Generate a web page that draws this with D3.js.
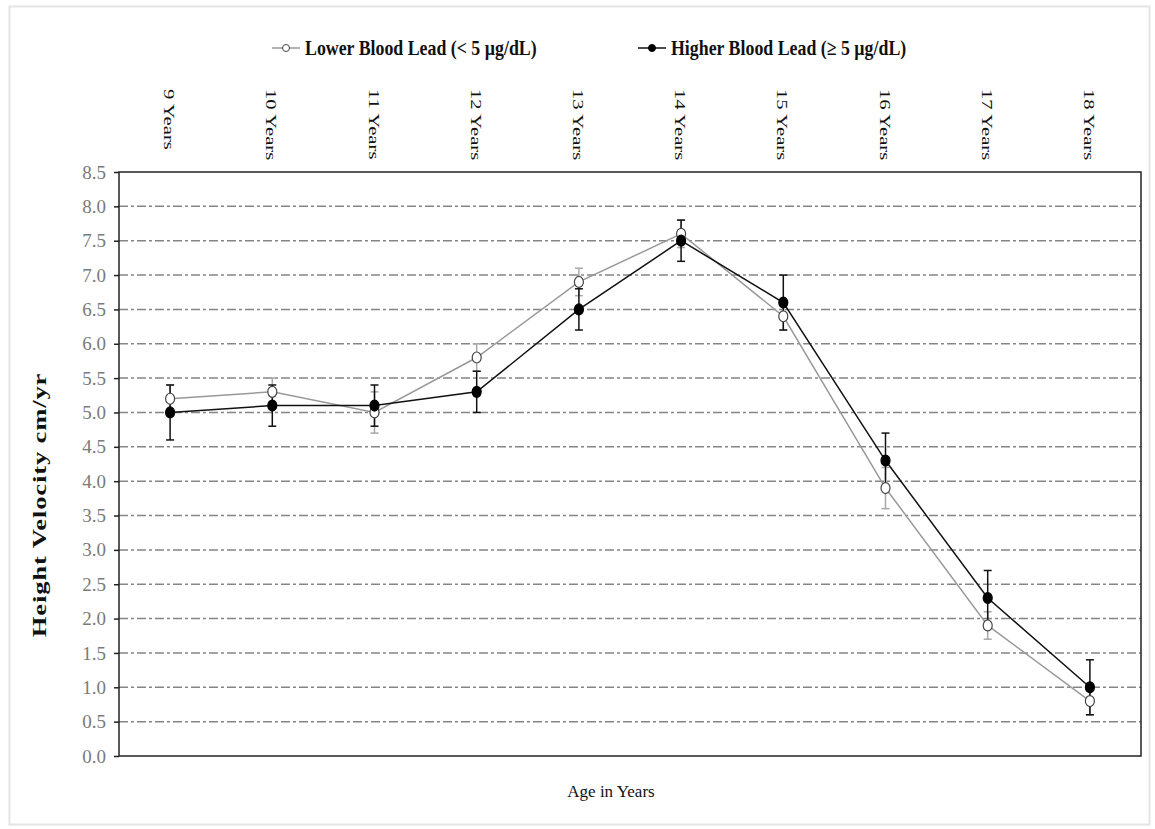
<!DOCTYPE html>
<html>
<head>
<meta charset="utf-8" />
<script src="https://d3js.org/d3.v7.min.js"></script>
<style>
  body { margin: 0; background: #fff; }
  text { font-family: "Liberation Serif", "Times New Roman", serif; }
</style>
</head>
<body>
<svg id="chart" width="1155" height="829"></svg>
<script>
// categories (ages)
var ages = ["9 Years", "10 Years", "11 Years", "12 Years", "13 Years", "14 Years", "15 Years", "16 Years", "17 Years", "18 Years"];

// lower blood lead (< 5 ug/dL) - mean and error
var lowerMean = [5.2, 5.3, 5.0, 5.8, 6.9, 7.6, 6.4, 3.9, 1.9, 0.8];
var lowerErr  = [0.2, 0.2, 0.3, 0.2, 0.2, 0.2, 0.2, 0.3, 0.2, 0.2];

// higher blood lead (>= 5 ug/dL)
var higherMean = [5.0, 5.1, 5.1, 5.3, 6.5, 7.5, 6.6, 4.3, 2.3, 1.0];
var higherErr  = [0.4, 0.3, 0.3, 0.3, 0.3, 0.3, 0.4, 0.4, 0.4, 0.4];

var yTicks = d3.range(0, 8.51, 0.5);

var svg = d3.select("#chart");

// outer light frame
svg.append("rect")
    .attr("x", 9.5).attr("y", 6.5)
    .attr("width", 1140).attr("height", 818)
    .attr("fill", "none").attr("stroke", "#e4e4e4").attr("stroke-width", 2);

var plotLeft = 119, plotRight = 1141, plotTop = 172, plotBottom = 756;

var x = d3.scaleBand().domain(ages).range([plotLeft, plotRight]);
var y = d3.scaleLinear().domain([0, 8.5]).range([plotBottom, plotTop]);

// grid lines (dash-dot)
svg.append("g")
    .selectAll("line")
    .data(yTicks.filter(function(d) { return d > 0 && d < 8.5; }))
    .enter()
    .append("line")
    .attr("x1", plotLeft).attr("x2", plotRight)
    .attr("y1", function(d) { return y(d); })
    .attr("y2", function(d) { return y(d); })
    .attr("stroke", "#858585")
    .attr("stroke-width", 1.5)
    .attr("stroke-dasharray", "9,3,3,3");

// plot box
svg.append("rect")
    .attr("x", plotLeft).attr("y", plotTop)
    .attr("width", plotRight - plotLeft).attr("height", plotBottom - plotTop)
    .attr("fill", "none").attr("stroke", "#222").attr("stroke-width", 1.5);

// y axis
var yAxis = svg.append("g")
    .attr("transform", "translate(" + plotLeft + ",0)")
    .call(d3.axisLeft(y).tickValues(yTicks).tickFormat(d3.format(".1f")).tickSize(5).tickPadding(8));
yAxis.select(".domain").remove();
yAxis.selectAll("line").attr("stroke", "#222").attr("stroke-width", 1.5);
yAxis.selectAll("text")
    .attr("fill", "#7a7a7a")
    .style("font-size", "19px")
    .style("font-family", "'Liberation Serif', serif");

// top category labels (rotated, stretched along the text)
svg.append("g")
    .selectAll("text")
    .data(ages)
    .enter()
    .append("text")
    .attr("transform", function(d) {
        return "translate(" + (x(d) + x.bandwidth() / 2 - 6) + ",89) rotate(90) scale(1.38,1)";
    })
    .attr("text-anchor", "start")
    .style("font-size", "15px")
    .attr("fill", "#111")
    .text(function(d) { return d; });

// axis titles
svg.append("text")
    .attr("transform", "translate(46,505) rotate(-90) scale(1.4,1)")
    .attr("text-anchor", "middle")
    .style("font-size", "19px")
    .style("font-weight", "bold")
    .style("letter-spacing", "0.6px")
    .attr("fill", "#111")
    .text("Height  Velocity cm/yr");

svg.append("text")
    .attr("x", 611).attr("y", 797)
    .attr("text-anchor", "middle")
    .style("font-size", "17px")
    .attr("fill", "#111")
    .text("Age in Years");

// series
var series = [
    { name: "Lower Blood Lead (< 5 \u00b5g/dL)", mean: lowerMean, err: lowerErr, line: "#999", bar: "#a8a8a8", fill: "#fff", stroke: "#444" },
    { name: "Higher Blood Lead (\u2265 5 \u00b5g/dL)", mean: higherMean, err: higherErr, line: "#111", bar: "#111", fill: "#000", stroke: "#000" }
];

var cx = function(i) { return x(ages[i]) + x.bandwidth() / 2; };

series.forEach(function(s) {
    var g = svg.append("g");
    // error bars
    var eb = g.selectAll("g.err")
        .data(s.mean)
        .enter()
        .append("g");
    eb.append("line")
        .attr("x1", function(d, i) { return cx(i); })
        .attr("x2", function(d, i) { return cx(i); })
        .attr("y1", function(d, i) { return y(d - s.err[i]); })
        .attr("y2", function(d, i) { return y(d + s.err[i]); })
        .attr("stroke", s.bar).attr("stroke-width", 1.5);
    [-1, 1].forEach(function(sign) {
        eb.append("line")
            .attr("x1", function(d, i) { return cx(i) - 4; })
            .attr("x2", function(d, i) { return cx(i) + 4; })
            .attr("y1", function(d, i) { return y(d + sign * s.err[i]); })
            .attr("y2", function(d, i) { return y(d + sign * s.err[i]); })
            .attr("stroke", s.bar).attr("stroke-width", 1.5);
    });
});

series.forEach(function(s) {
    var g = svg.append("g");
    var line = d3.line()
        .x(function(d, i) { return cx(i); })
        .y(function(d) { return y(d); });
    g.append("path")
        .datum(s.mean)
        .attr("d", line)
        .attr("fill", "none")
        .attr("stroke", s.line)
        .attr("stroke-width", 1.5);
    g.selectAll("ellipse")
        .data(s.mean)
        .enter()
        .append("ellipse")
        .attr("cx", function(d, i) { return cx(i); })
        .attr("cy", function(d) { return y(d); })
        .attr("rx", 4.5).attr("ry", 5.5)
        .attr("fill", s.fill)
        .attr("stroke", s.stroke)
        .attr("stroke-width", 1.2);
});

// legend
var legendPos = [{ x: 272, tx: 305 }, { x: 638, tx: 671 }];
series.forEach(function(s, i) {
    var lg = svg.append("g");
    var lx = legendPos[i].x, ly = 48;
    lg.append("line")
        .attr("x1", lx).attr("x2", lx + 28)
        .attr("y1", ly).attr("y2", ly)
        .attr("stroke", s.line).attr("stroke-width", 1.5);
    lg.append("circle")
        .attr("cx", lx + 14).attr("cy", ly).attr("r", 3.5)
        .attr("fill", s.fill).attr("stroke", s.stroke).attr("stroke-width", 1);
    lg.append("text")
        .attr("transform", "translate(" + legendPos[i].tx + "," + (ly + 7) + ") scale(0.85,1)")
        .style("font-size", "21px")
        .style("font-weight", "bold")
        .attr("fill", "#111")
        .text(s.name);
});
</script>
</body>
</html>
